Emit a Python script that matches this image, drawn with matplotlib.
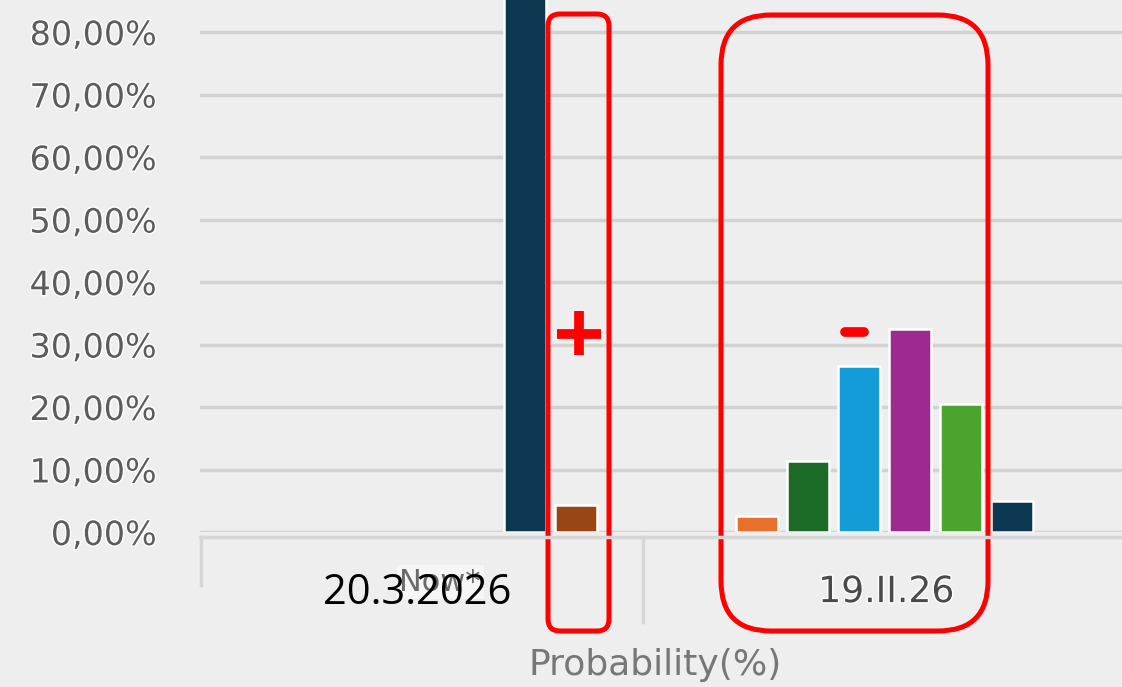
import numpy as np
import matplotlib
matplotlib.use("Agg")
import matplotlib.pyplot as plt
from matplotlib.patches import FancyBboxPatch
import matplotlib.patheffects as pe

# %%
# data (probability in %)
categories = ["Now*", "19.II.26"]
series_colors = ["#e86f2c", "#1b6a27", "#139cd7", "#9d2a8f", "#4ba42e", "#0c3751", "#9a4514"]
now_vals = [0, 0, 0, 0, 0, 90.0, 4.3]
feb_vals = [2.56, 11.36, 26.56, 32.48, 20.48, 4.96, 0]
yticks = [0, 10, 20, 30, 40, 50, 60, 70, 80]
ytick_labels = ["0,00%", "10,00%", "20,00%", "30,00%", "40,00%",
                "50,00%", "60,00%", "70,00%", "80,00%"]

# %%
fig = plt.figure(figsize=(11.22, 6.87), dpi=100)
fig.patch.set_facecolor("#eeeeee")
ax = fig.add_axes([200/1122, 1-532/687, 922/1122, 532/687])
ax.set_facecolor("none")

step = 0.1047
width = 0.086
vals = np.array([now_vals, feb_vals])
for j, c in enumerate(series_colors):
    xs = np.arange(len(categories)) + (j - 3)*step
    keep = vals[:, j] > 0                      # empty bars are not drawn
    ax.bar(xs[keep], vals[keep, j], width=width, color=c, edgecolor="white",
           linewidth=1.8, zorder=3)

ax.set_xlim(-0.458, 1.435)
ax.set_ylim(0, 85.12)
ax.set_yticks(yticks, ytick_labels)
ax.tick_params(axis="y", length=0, pad=31, labelsize=24, labelcolor="#5c5c5c")
for lab in ax.get_yticklabels():
    lab.set_path_effects([pe.withStroke(linewidth=2, foreground="white")])
ax.yaxis.grid(True, color="#d2d2d2", linewidth=2.5)
ax.set_axisbelow(True)
ax.set_xticks([])
for s in ax.spines.values():
    s.set_visible(False)

# category labels
ax.text(0.035, -0.094, categories[0], transform=ax.get_xaxis_transform(), ha="center", va="center",
        fontsize=22, color="#6a6a6a",
        bbox=dict(facecolor="#f6f6f6", edgecolor="none", pad=2))
ax.text(0.951, -0.113, categories[1], transform=ax.get_xaxis_transform(), ha="center", va="center",
        fontsize=26, color="#4a4a4a",
        path_effects=[pe.withStroke(linewidth=2, foreground="white")])
ax.set_xlabel("Probability(%)", fontsize=26, color="#777777")
ax.xaxis.set_label_coords(0.4935, -0.25)
ax.xaxis.label.set_va("center")

# %%
# overlay in pixel coordinates for axis frame and annotations
ov = fig.add_axes([0, 0, 1, 1])
ov.set_xlim(0, 1122)
ov.set_ylim(687, 0)
ov.axis("off")

ov.plot([200, 1122], [537, 537], color="#d6d6d6", lw=2.5)
ov.plot([201, 201], [537, 585], color="#d6d6d6", lw=2.5)
ov.plot([643, 643], [537, 622], color="#d6d6d6", lw=2.5)

# overwritten date label
ov.text(417, 593, "20.3.2026", ha="center", va="center", fontsize=30,
        family="Open Sans", color="black")

# red annotations
ov.add_patch(FancyBboxPatch((548, 14), 61, 617, boxstyle="round,pad=0,rounding_size=12",
                            fill=False, edgecolor="#ff0000", lw=3.6))
ov.add_patch(FancyBboxPatch((721, 15), 267, 616, boxstyle="round,pad=0,rounding_size=50",
                            fill=False, edgecolor="#ff0000", lw=3.6))
ov.plot([557, 601], [334, 334], color="#ff0000", lw=7, solid_capstyle="butt")
ov.plot([579, 579], [311, 355], color="#ff0000", lw=7, solid_capstyle="butt")
ov.plot([845, 864], [332, 332], color="#ff0000", lw=7, solid_capstyle="round")

fig.savefig("out.png", dpi=100, facecolor=fig.get_facecolor())
